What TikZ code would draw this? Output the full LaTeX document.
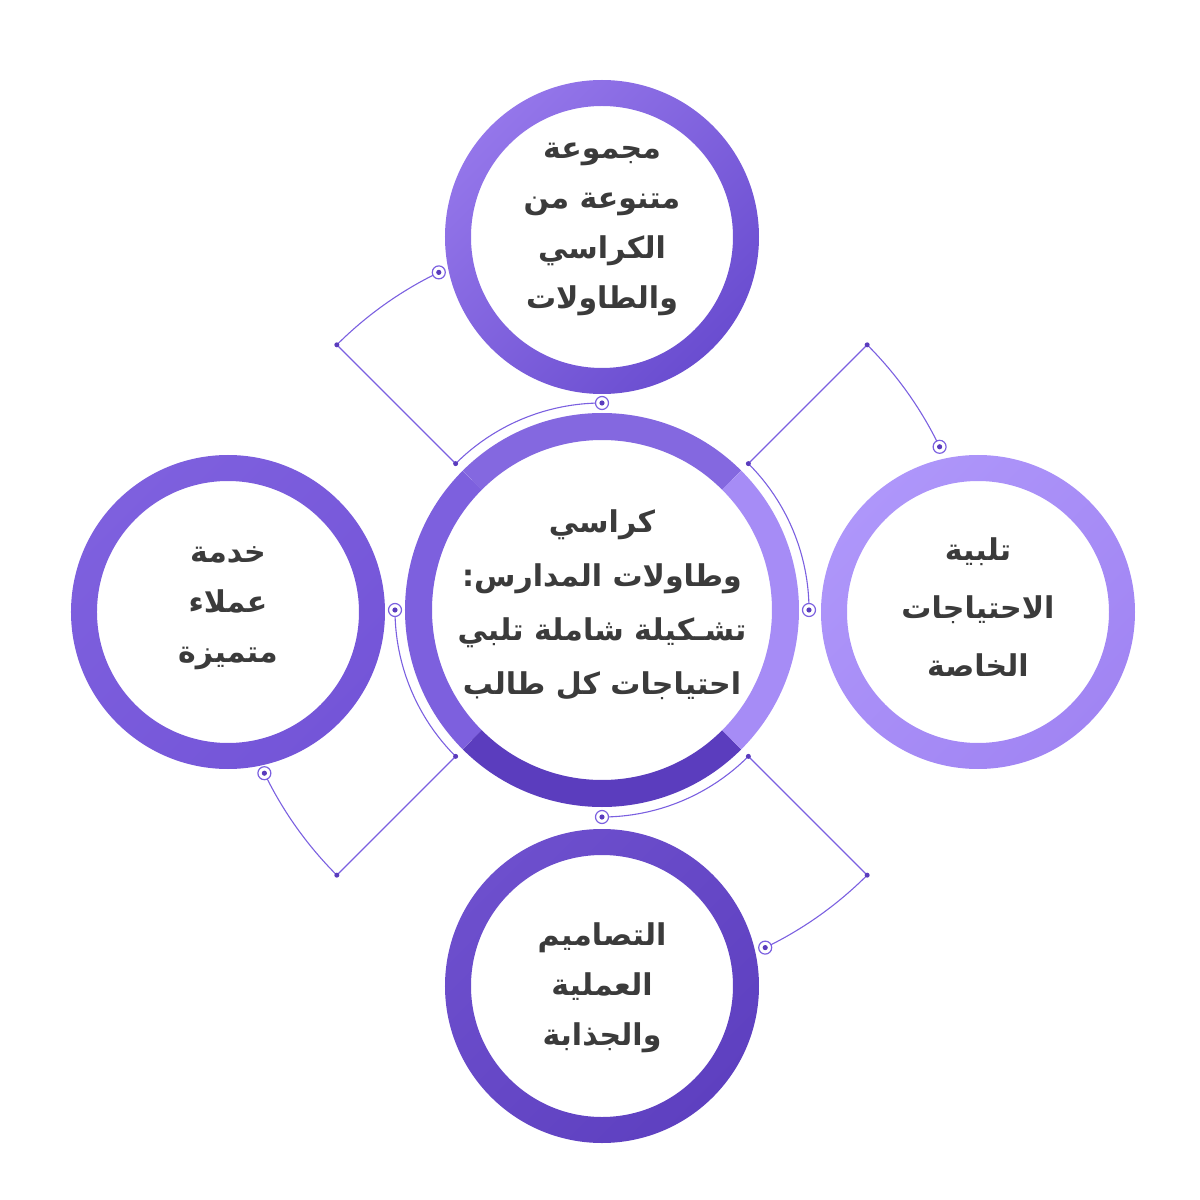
\documentclass[tikz,border=0pt]{standalone}
\usepackage{fontspec}
\newfontfamily\arabicfont[Script=Arabic]{DejaVu Sans}
\TeXXeTstate=1
\definecolor{txt}{HTML}{3B3B3B}
\definecolor{linec}{HTML}{7B60E0}
\definecolor{dotc}{HTML}{5A3CBD}
\definecolor{cTop}{HTML}{8468E0}
\definecolor{cRight}{HTML}{A68CF6}
\definecolor{cBottom}{HTML}{5B3DBE}
\definecolor{cLeft}{HTML}{7D60DE}
\definecolor{tA}{HTML}{9476EA}
\definecolor{tB}{HTML}{6A4DD0}
\definecolor{rA}{HTML}{AE96FA}
\definecolor{rB}{HTML}{A185F3}
\definecolor{lA}{HTML}{7E60DE}
\definecolor{lB}{HTML}{7455D8}
\definecolor{bA}{HTML}{6D4FCD}
\definecolor{bB}{HTML}{5E40C0}
\begin{document}
\begin{tikzpicture}[x=1pt,y=1pt,
  conn/.style={draw=linec, line width=1.1pt},
  markring/.style={circle, draw=linec, fill=white, line width=1.2pt, minimum size=13pt, inner sep=0pt,
    path picture={\fill[dotc] (path picture bounding box.center) circle (2.6pt);}},
  cornerdot/.style={circle, fill=dotc, minimum size=5pt, inner sep=0pt},
  lbl/.style={font=\arabicfont\bfseries\fontsize{30}{50}\selectfont, text=txt, align=center},
  ringseg/.style={line width=27pt, line cap=butt},
]
\useasboundingbox (-602,-590) rectangle (598,610);

% ---- connectors (drawn first, markers on top)
\foreach \t/\n in {135/a,45/b,225/c,315/d}{
  \coordinate (in\n) at (\t:207);
  \coordinate (out\n) at (\t:375);
}
\draw[conn] (90:207) arc[start angle=90, end angle=135, radius=207] -- (outa) arc[start angle=135, end angle=115.8, radius=375];
\draw[conn] (0:207) arc[start angle=0, end angle=45, radius=207] -- (outb) arc[start angle=45, end angle=25.8, radius=375];
\draw[conn] (180:207) arc[start angle=180, end angle=225, radius=207] -- (outc) arc[start angle=225, end angle=205.8, radius=375];
\draw[conn] (270:207) arc[start angle=270, end angle=315, radius=207] -- (outd) arc[start angle=315, end angle=295.8, radius=375];

\foreach \n in {a,b,c,d}{
  \node[cornerdot] at (in\n) {};
  \node[cornerdot] at (out\n) {};
}
\node[markring] (ma1) at (90:207) {};
\node[markring] (ma2) at (115.8:375) {};
\node[markring] (mb1) at (0:207) {};
\node[markring] (mb2) at (25.8:375) {};
\node[markring] (mc1) at (180:207) {};
\node[markring] (mc2) at (205.8:375) {};
\node[markring] (md1) at (270:207) {};
\node[markring] (md2) at (295.8:375) {};

% ---- central ring
\fill[white] (0,0) circle (170);
\draw[ringseg, cTop] (45:183.5) arc[start angle=45, end angle=135, radius=183.5];
\draw[ringseg, cLeft] (135:183.5) arc[start angle=135, end angle=225, radius=183.5];
\draw[ringseg, cBottom] (225:183.5) arc[start angle=225, end angle=315, radius=183.5];
\draw[ringseg, cRight] (-45:183.5) arc[start angle=-45, end angle=45, radius=183.5];

% ---- satellite rings
\shade[even odd rule, top color=tA, bottom color=tB, shading angle=45]
  (0,373) circle (157) (0,373) circle (131);
\shade[even odd rule, top color=rA, bottom color=rB, shading angle=45]
  (376,-2) circle (157) (376,-2) circle (131);
\shade[even odd rule, top color=lA, bottom color=lB, shading angle=45]
  (-374,-2) circle (157) (-374,-2) circle (131);
\shade[even odd rule, top color=bA, bottom color=bB, shading angle=45]
  (0,-376) circle (157) (0,-376) circle (131);

% ---- texts
\node[lbl, font=\arabicfont\bfseries\fontsize{30}{54}\selectfont] (center) at (0,5.5) {\beginR كراسي\endR\\ \beginR وطاولات المدارس:\endR\\ \beginR تشـكيلة شاملة تلبي\endR\\ \beginR احتياجات كل طالب\endR};
\node[lbl] (top) at (0,381) {\beginR مجموعة\endR\\ \beginR متنوعة من\endR\\ \beginR الكراسي\endR\\ \beginR والطاولات\endR};
\node[lbl, font=\arabicfont\bfseries\fontsize{30}{58}\selectfont] (right) at (376,3) {\beginR تلبية\endR\\ \beginR الاحتياجات\endR\\ \beginR الخاصة\endR};
\node[lbl] (left) at (-374,2) {\beginR خدمة\endR\\ \beginR عملاء\endR\\ \beginR متميزة\endR};
\node[lbl] (bottom) at (0,-378) {\beginR التصاميم\endR\\ \beginR العملية\endR\\ \beginR والجذابة\endR};
\end{tikzpicture}
\end{document}
